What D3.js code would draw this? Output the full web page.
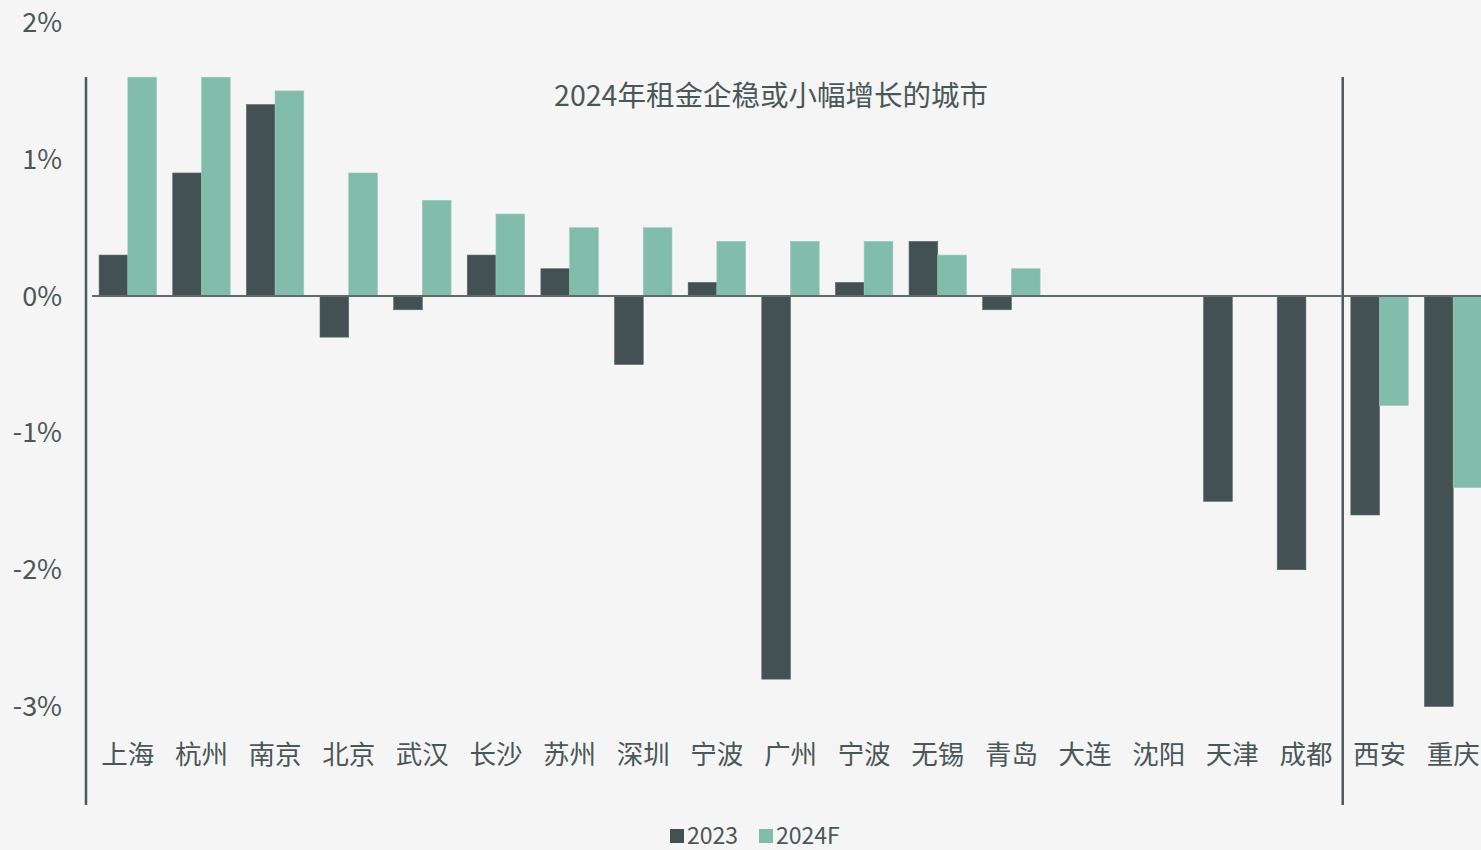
<!DOCTYPE html>
<html>
<head>
<meta charset="utf-8">
<script src="https://cdn.jsdelivr.net/npm/d3@7"></script>
<style>
  html, body { margin: 0; padding: 0; background: #f5f5f5; }
  svg { display: block; font-family: "Noto Sans CJK SC", "Noto Sans", sans-serif; }
</style>
</head>
<body>
<div id="chart"></div>
<script>
// data
const cities = ['上海', '杭州', '南京', '北京', '武汉', '长沙', '苏州', '深圳', '宁波', '广州',
  '宁波', '无锡', '青岛', '大连', '沈阳', '天津', '成都', '西安', '重庆'];
const rent2023 = [0.3, 0.9, 1.4, -0.3, -0.1, 0.3, 0.2, -0.5, 0.1, -2.8, 0.1, 0.4, -0.1, 0, 0, -1.5, -2.0, -1.6, -3.0];
const rent2024F = [1.6, 1.6, 1.5, 0.9, 0.7, 0.6, 0.5, 0.5, 0.4, 0.4, 0.4, 0.3, 0.2, 0, 0, 0, 0, -0.8, -1.4];
const seriesNames = ['2023', '2024F'];
const yTicks = [2, 1, 0, -1, -2, -3];

const width = 1481, height = 850;
const dark = '#435155', light = '#82bcab', ink = '#4a5759';

const svg = d3.select('#chart').append('svg')
  .attr('width', width)
  .attr('height', height);

svg.append('rect').attr('width', width).attr('height', height).attr('fill', '#f5f5f5');

const y = d3.scaleLinear().domain([-3, 2]).range([706.5, 22.5]);

const x = d3.scaleBand()
  .domain(d3.range(cities.length))
  .range([91, 1490])
  .paddingInner(0.22)
  .paddingOuter(0.11);

const xs = d3.scaleBand().domain(seriesNames).range([0, x.bandwidth()]);

// y tick labels (no axis line)
svg.append('g').selectAll('text')
  .data(yTicks)
  .enter()
  .append('text')
  .attr('x', 62)
  .attr('y', d => y(d))
  .attr('dy', '0.35em')
  .attr('text-anchor', 'end')
  .attr('fill', ink)
  .style('font-size', '27px')
  .text(d => d + '%');

// bars
const rows = cities.map((c, i) => ({ i, vals: [rent2023[i], rent2024F[i]] }));
const group = svg.append('g').selectAll('g')
  .data(rows)
  .enter()
  .append('g')
  .attr('transform', d => `translate(${x(d.i)},0)`);

group.selectAll('rect')
  .data(d => d.vals.map((v, k) => ({ v, k })))
  .enter()
  .append('rect')
  .attr('x', d => xs(seriesNames[d.k]))
  .attr('width', xs.bandwidth())
  .attr('y', d => Math.min(y(d.v), y(0)))
  .attr('height', d => Math.abs(y(d.v) - y(0)))
  .attr('fill', d => d.k === 0 ? dark : light)
  .attr('stroke', d => d.v === 0 ? 'none' : (d.k === 0 ? '#5a6668' : '#9cc9bb'))
  .attr('stroke-width', 0.6);

// zero line
svg.append('line')
  .attr('x1', 92).attr('x2', width)
  .attr('y1', y(0)).attr('y2', y(0))
  .attr('stroke', '#5f6b6d')
  .attr('stroke-width', 2);

// vertical dividers
[86, x(17) - x.step() * x.paddingInner() / 2].forEach(px => {
  svg.append('line')
    .attr('x1', px).attr('x2', px)
    .attr('y1', 77).attr('y2', 805)
    .attr('stroke', '#4d5a5c')
    .attr('stroke-width', 2.5);
});

// category labels
svg.append('g').selectAll('text')
  .data(rows)
  .enter()
  .append('text')
  .attr('x', d => x(d.i) + x.bandwidth() / 2)
  .attr('y', 755)
  .attr('dy', '0.35em')
  .attr('text-anchor', 'middle')
  .attr('fill', ink)
  .style('font-size', '26.5px')
  .text(d => cities[d.i]);

// title
svg.append('text')
  .attr('x', 771)
  .attr('y', 96)
  .attr('dy', '0.35em')
  .attr('text-anchor', 'middle')
  .attr('fill', ink)
  .style('font-size', '28.5px')
  .text('2024年租金企稳或小幅增长的城市');

// legend
const legend = svg.append('g').attr('transform', 'translate(670,835)');
const legendItems = [
  { name: seriesNames[0], color: dark, x: 0 },
  { name: seriesNames[1], color: light, x: 89 }
];
legendItems.forEach(d => {
  legend.append('rect')
    .attr('x', d.x).attr('y', -6)
    .attr('width', 14).attr('height', 14)
    .attr('fill', d.color);
  legend.append('text')
    .attr('x', d.x + 17).attr('y', 1)
    .attr('dy', '0.35em')
    .attr('fill', ink)
    .style('font-size', '23px')
    .text(d.name);
});
</script>
</body>
</html>
